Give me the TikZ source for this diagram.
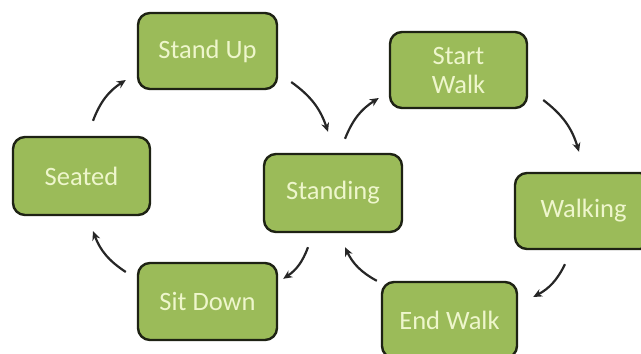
\documentclass[tikz,border=0pt]{standalone}
\usepackage{fontspec}
\setmainfont{Carlito}
\usetikzlibrary{arrows.meta,calc}
\definecolor{boxfill}{HTML}{9BBB59}
\definecolor{boxline}{HTML}{1E2214}
\definecolor{boxtext}{HTML}{EEF6CC}
\tikzset{
  state/.style={draw=boxline, line width=2.4pt, fill=boxfill, rounded corners=12pt,
    text=boxtext, font=\fontsize{26.5}{29}\selectfont, align=center,
    inner sep=0pt},
  arr/.style={draw=black!85, line width=2.2pt, -{Stealth[length=9pt,width=8pt]}, bend left=18}
}
\begin{document}
\begin{tikzpicture}[x=1pt,y=1pt]
\useasboundingbox (0,0) rectangle (641,-354);
\node[state, minimum width=139pt, minimum height=76pt] (standup) at (207.5,-51) {Stand Up};
\node[state, minimum width=137pt, minimum height=76pt] (startwalk) at (458.5,-70) {Start\\Walk};
\node[state, minimum width=137pt, minimum height=78pt] (seated) at (81.5,-176) {Seated};
\node[state, minimum width=138pt, minimum height=78pt] (standing) at (333,-193) {Standing};
\node[state, minimum width=137pt, minimum height=76pt] (walking) at (583.5,-211) {Walking};
\node[state, minimum width=135pt, minimum height=76pt] (endwalk) at (449.5,-320) {End Walk};
\node[state, minimum width=139pt, minimum height=77pt] (sitdown) at (207.5,-301.5) {Sit Down};

\draw[arr] ($(seated.north)+(11.5,15)$) to ($(standup.west)+(-11,-29)$);
\draw[arr] ($(standup.east)+(13,-31)$) to ($(standing.north)+(-5,21)$);
\draw[arr] ($(standing.north)+(12,14)$) to ($(startwalk.west)+(-10,-28)$);
\draw[arr] ($(startwalk.east)+(15,-30)$) to ($(walking.north)+(-4.5,20)$);
\draw[arr] ($(walking.south)+(-18.5,-14)$) to ($(endwalk.east)+(15,23)$);
\draw[arr] ($(endwalk.north west)+(-4,0)$) to ($(standing.south)+(12,-14)$);
\draw[arr] ($(standing.south)+(-25,-14)$) to ($(sitdown.north east)+(5,-17)$);
\draw[arr] ($(sitdown.west)+(-11,29.5)$) to ($(seated.south)+(11.5,-15)$);
\end{tikzpicture}
\end{document}
